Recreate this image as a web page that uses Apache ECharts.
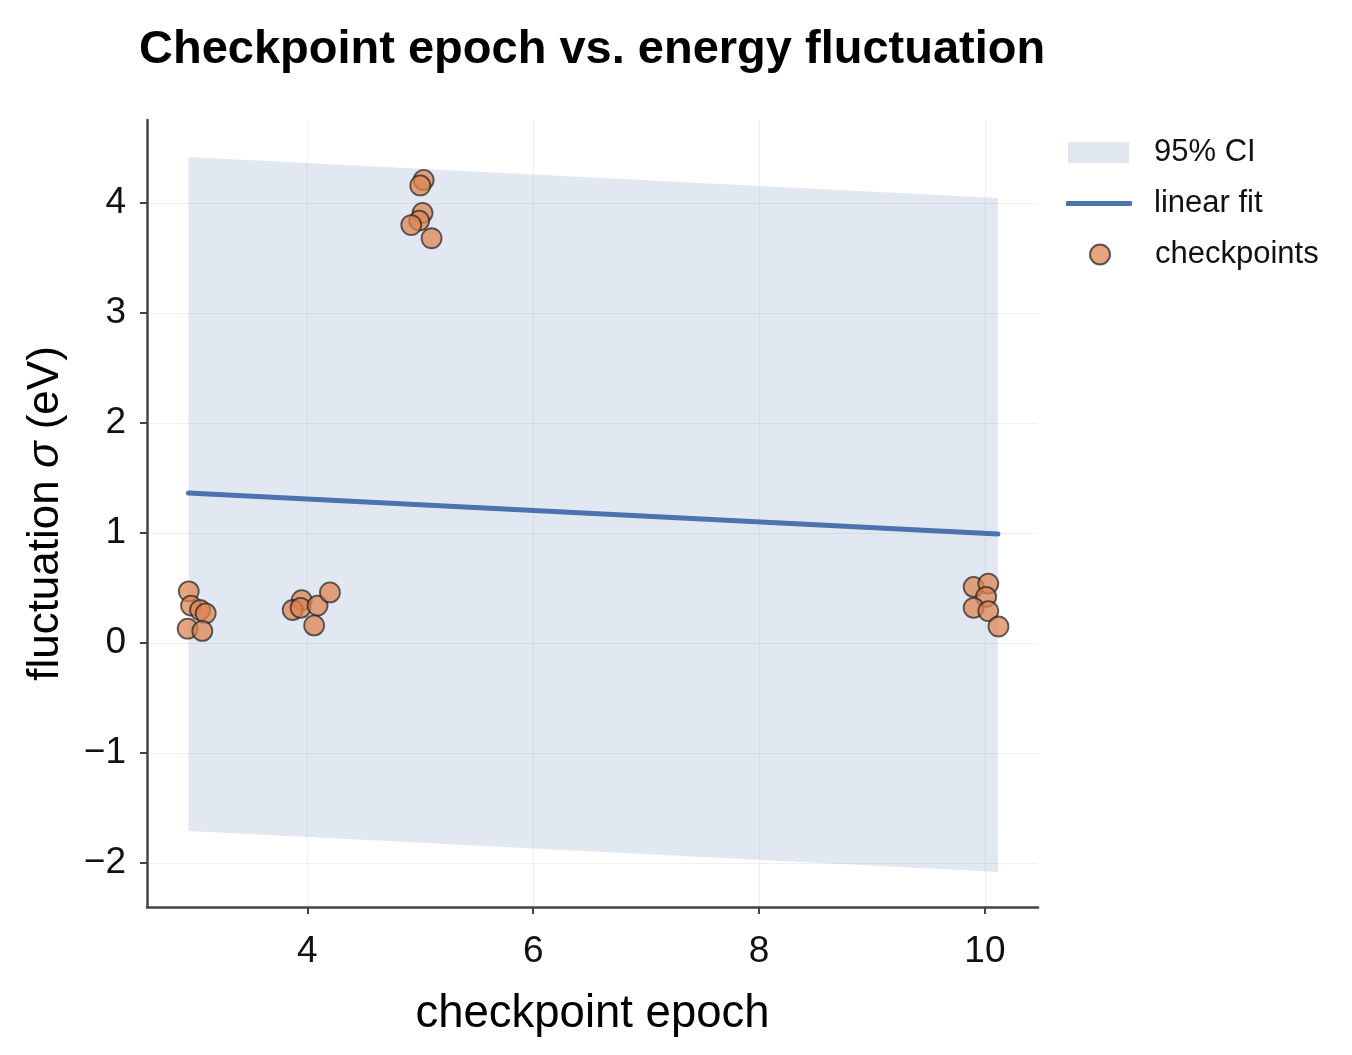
<!DOCTYPE html>
<html>
<head>
<meta charset="utf-8">
<title>Checkpoint epoch vs. energy fluctuation</title>
<script src="https://cdn.jsdelivr.net/npm/echarts@6/dist/echarts.min.js"></script>
<style>
  html, body { margin: 0; padding: 0; background: #fff; }
  #chart { width: 1352px; height: 1055px; }
</style>
</head>
<body>
<div id="chart"></div>
<script>
// checkpoints (epoch, sigma), jitter included
var epochs = [2.95, 2.97, 3.05, 3.10, 2.94, 3.07,
              3.95, 3.87, 3.94, 4.09, 4.20, 4.06,
              5.03, 5.00, 5.02, 4.99, 4.92, 5.10,
              9.90, 10.03, 10.01, 9.90, 10.03, 10.12];
var sigmas = [0.47, 0.34, 0.30, 0.27, 0.13, 0.11,
              0.39, 0.30, 0.32, 0.34, 0.46, 0.16,
              4.21, 4.16, 3.91, 3.84, 3.80, 3.68,
              0.51, 0.54, 0.42, 0.32, 0.29, 0.15];

// fit line and 95% CI band at both ends of the data range
var fitX = [2.947, 10.115];
var fitY = [1.364, 0.991];
var ciLow = [-1.709, -2.082];
var ciHigh = [4.418, 4.045];

var xTicks = [4, 6, 8, 10];
var yTicks = [-2, -1, 0, 1, 2, 3, 4];

var FONT = '"Liberation Sans", Arial, Helvetica, sans-serif';

var scatterData = epochs.map(function (x, i) { return [x, sigmas[i]]; });
var fitData = fitX.map(function (x, i) { return [x, fitY[i]]; });
var bandData = fitX.map(function (x, i) { return [x, ciLow[i], ciHigh[i]]; });

var chart = echarts.init(document.getElementById('chart'));

chart.setOption({
    animation: false,
    textStyle: { fontFamily: FONT },
    title: {
        text: 'Checkpoint epoch vs. energy fluctuation',
        left: 134,
        top: 22,
        textStyle: { fontFamily: FONT, fontSize: 47, fontWeight: 'bold', color: '#000' }
    },
    legend: [
        {
            left: 1063, top: 132, orient: 'vertical',
            itemWidth: 61, itemHeight: 21,
            textStyle: { fontSize: 31, color: '#111', padding: [0, 0, 0, 20] },
            data: [{ name: '95% CI', icon: 'rect', itemStyle: { color: '#e1e7f1' } }]
        },
        {
            left: 1061, top: 183, orient: 'vertical',
            itemWidth: 66, itemHeight: 5,
            textStyle: { fontSize: 31, color: '#111', padding: [0, 0, 0, 17] },
            data: [{ name: 'linear fit', icon: 'roundRect', itemStyle: { color: '#4c72b0' } }]
        },
        {
            left: 1084, top: 234, orient: 'vertical',
            itemWidth: 20, itemHeight: 20,
            textStyle: { fontSize: 31, color: '#111', padding: [0, 0, 0, 40] },
            data: [{ name: 'checkpoints', icon: 'circle' }]
        }
    ],
    grid: { left: 147, right: 314, top: 120, bottom: 148, containLabel: false },
    xAxis: {
        type: 'value',
        min: 2.58,
        max: 10.47,
        name: 'checkpoint epoch',
        nameLocation: 'middle',
        nameGap: 84,
        nameTextStyle: { fontSize: 45.5, color: '#000' },
        axisLine: { show: true, onZero: false, lineStyle: { color: '#444', width: 2.5 } },
        axisTick: { show: true, customValues: xTicks, length: 7, lineStyle: { color: '#444', width: 2 } },
        axisLabel: { customValues: xTicks, fontSize: 37, color: '#111', margin: 26 },
        splitLine: { show: true, lineStyle: { color: 'rgba(0,0,0,0.06)', width: 1.2 } }
    },
    yAxis: {
        type: 'value',
        min: -2.4,
        max: 4.755,
        name: '{n|fluctuation }{s|σ}{n| (eV)}',
        nameLocation: 'middle',
        nameGap: 79,
        nameTextStyle: {
            rich: {
                n: { fontSize: 44, color: '#000', fontFamily: FONT },
                s: { fontSize: 44, color: '#000', fontFamily: FONT, fontStyle: 'italic' }
            }
        },
        axisLine: { show: true, onZero: false, lineStyle: { color: '#444', width: 2.5 } },
        axisTick: { show: true, customValues: yTicks, length: 7, lineStyle: { color: '#444', width: 2 } },
        axisLabel: {
            customValues: yTicks, fontSize: 37, color: '#111', margin: 21,
            formatter: function (v) { return String(v).replace('-', '\u2212'); }
        },
        splitLine: { show: true, lineStyle: { color: 'rgba(0,0,0,0.06)', width: 1.2 } }
    },
    series: [
        {
            name: '95% CI',
            type: 'custom',
            z: 1,
            silent: true,
            itemStyle: { color: '#e1e7f1' },
            data: bandData,
            renderItem: function (params, api) {
                var i = params.dataIndex;
                if (i >= bandData.length - 1) return null;
                var a = bandData[i], b = bandData[i + 1];
                return {
                    type: 'polygon',
                    shape: {
                        points: [
                            api.coord([a[0], a[2]]),
                            api.coord([b[0], b[2]]),
                            api.coord([b[0], b[1]]),
                            api.coord([a[0], a[1]])
                        ]
                    },
                    style: { fill: 'rgba(76,114,176,0.16)' }
                };
            }
        },
        {
            name: 'linear fit',
            type: 'line',
            z: 3,
            data: fitData,
            showSymbol: false,
            itemStyle: { color: '#4c72b0' },
            lineStyle: { color: '#4c72b0', width: 5, cap: 'round' }
        },
        {
            name: 'checkpoints',
            type: 'scatter',
            z: 4,
            data: scatterData,
            symbolSize: 20,
            itemStyle: {
                color: 'rgba(221,132,82,0.92)',
                borderColor: 'rgba(34,34,34,0.9)',
                borderWidth: 1.8
            }
        }
    ]
});
</script>
</body>
</html>
